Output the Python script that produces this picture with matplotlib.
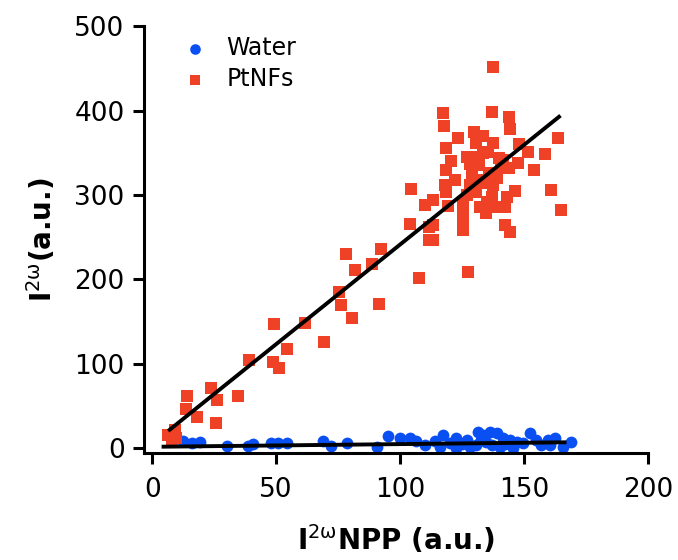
import numpy as np
import matplotlib
matplotlib.use("Agg")
import matplotlib.pyplot as plt

plt.rcParams['font.family'] = ['DejaVu Sans']
plt.rcParams['mathtext.fontset'] = 'dejavusans'

# Water: NPP reference intensity vs. SHG intensity
water_x = [12.5, 15.9, 19.2, 30.0, 38.7, 40.7, 48.1, 50.8, 54.4, 69.0, 72.3, 78.6,
           90.5, 95.2, 99.9, 103.9, 106.6, 114.0, 116.0, 117.3, 122.7, 122.7, 126.8,
           128.1, 130.8, 131.5, 133.5, 134.8, 136.2, 138.9, 140.2, 141.5, 144.2, 145.6,
           149.6, 152.3, 155.0, 157.0, 159.7, 162.4, 165.7, 169.1, 125.0, 132.5, 137.0,
           142.5, 120.0, 110.0, 147.0, 160.5]
water_y = [8.3, 5.5, 6.7, 2.8, 2.8, 4.4, 5.5, 5.5, 5.5, 8.3, 2.8, 5.5,
           1.6, 14.2, 11.5, 11.5, 8.3, 8.3, 1.6, 15.4, 11.5, -0.4, 9.5,
           1.6, 3.6, 19.4, 15.4, 7.5, 19.4, 17.4, 1.6, 11.5, 9.5, -0.4,
           5.5, 17.4, 9.5, 3.6, 9.5, 11.5, 1.6, 7.5, 5.0, 10.0, 3.0,
           4.5, 6.0, 4.0, 7.0, 4.0]

# PtNFs: NPP reference intensity vs. SHG intensity
ptnf_x = [137.3, 117.5, 137.0, 144.0, 117.6, 144.4, 130.0, 123.5, 133.5, 163.5,
          130.8, 137.5, 118.5, 148.0, 151.5, 158.5, 128.5, 135.5, 141.5, 132.0,
          147.5, 144.0, 154.0, 118.5, 129.0, 136.0, 118.0, 128.0, 137.5, 118.5,
          146.5, 161.0, 130.8, 137.0, 143.0, 113.3, 125.4, 119.4, 132.1, 137.5,
          142.2, 125.4, 134.8, 125.4, 113.3, 142.2, 125.4, 144.2, 113.3, 104.2,
          110.0, 164.8, 103.9, 111.7, 111.7, 127.4, 107.5, 92.2, 78.1, 88.5,
          81.7, 91.5, 75.4, 76.0, 80.6, 69.4, 61.6, 49.2, 54.4, 48.8,
          51.1, 39.0, 34.7, 23.9, 26.2, 13.9, 13.6, 17.9, 25.7, 6.5,
          9.2, 9.8, 8.0, 131.5, 134.0, 126.8, 139.9, 128.1, 140.5, 133.5,
          122.0, 127.0, 139.0, 120.5, 135.0]
ptnf_y = [451.6, 397.8, 398.0, 393.0, 382.0, 378.0, 375.0, 367.4, 370.0, 367.0,
          361.4, 361.4, 355.5, 360.6, 351.5, 348.8, 345.6, 351.5, 341.6, 335.7,
          337.7, 331.8, 329.8, 329.8, 323.8, 325.8, 312.0, 312.0, 312.0, 304.0,
          305.0, 306.0, 304.0, 298.0, 298.0, 294.0, 290.0, 287.0, 286.0, 286.0,
          286.0, 276.4, 278.4, 266.5, 264.5, 264.5, 258.6, 256.6, 246.7, 306.8,
          288.3, 282.3, 265.7, 262.5, 246.7, 209.1, 202.0, 236.0, 229.8, 217.9,
          211.2, 170.8, 185.4, 169.6, 153.8, 125.4, 147.9, 147.1, 117.1, 101.6,
          94.5, 104.4, 62.0, 70.8, 56.9, 62.0, 45.9, 36.4, 30.0, 15.4,
          21.4, 11.5, 9.5, 317.9, 314.0, 344.8, 343.6, 336.5, 333.7, 349.6,
          318.0, 300.0, 320.0, 340.0, 292.0]

# Linear fits (slope, intercept, x range)
water_fit = (0.032, 1.4, 3.8, 167.1)
ptnf_fit = (2.363, 4.96, 6.45, 164.7)

x_ticks = [0, 50, 100, 150, 200]
y_ticks = [0, 100, 200, 300, 400, 500]

red = '#EE4125'
blue = '#0A4FF2'

fig = plt.figure(figsize=(6.78, 5.60), dpi=100)
ax = fig.add_axes([0.2124, 0.191, 0.7434, 0.762])

ax.scatter(water_x, water_y, s=72, marker='o', color=blue, linewidths=0,
           label='Water', zorder=2)
ax.scatter(ptnf_x, ptnf_y, s=66, marker='s', color=red, linewidths=0,
           label='PtNFs', zorder=2)

for slope, icpt, x0, x1 in (water_fit, ptnf_fit):
    xs = np.array([x0, x1])
    ax.plot(xs, slope * xs + icpt, color='black', lw=2.8, zorder=3,
            solid_capstyle='butt')

ax.set_xlim(-3.3, 200)
ax.set_ylim(-6, 500)
ax.set_xticks(x_ticks)
ax.set_yticks(y_ticks)

for side in ('top', 'right'):
    ax.spines[side].set_visible(False)
for side in ('left', 'bottom'):
    ax.spines[side].set_linewidth(2.2)

ax.tick_params(axis='both', which='major', length=8, width=2.2,
               labelsize=19, color='black')
ax.tick_params(axis='x', pad=9)
ax.tick_params(axis='y', pad=6)

ax.set_xlabel(r'$\mathbf{I}^{\mathrm{2\omega}}$NPP (a.u.)', fontsize=20,
              fontweight='bold', labelpad=15)
ax.set_ylabel(r'$\mathbf{I}^{\mathrm{2\omega}}$(a.u.)', fontsize=20,
              fontweight='bold', labelpad=12)

ax.legend(loc='upper left', bbox_to_anchor=(0.035, 1.0), frameon=False,
          fontsize=17, handletextpad=0.35, labelspacing=0.32,
          markerscale=0.9, borderaxespad=0.0)

fig.savefig('out.png', dpi=100)
